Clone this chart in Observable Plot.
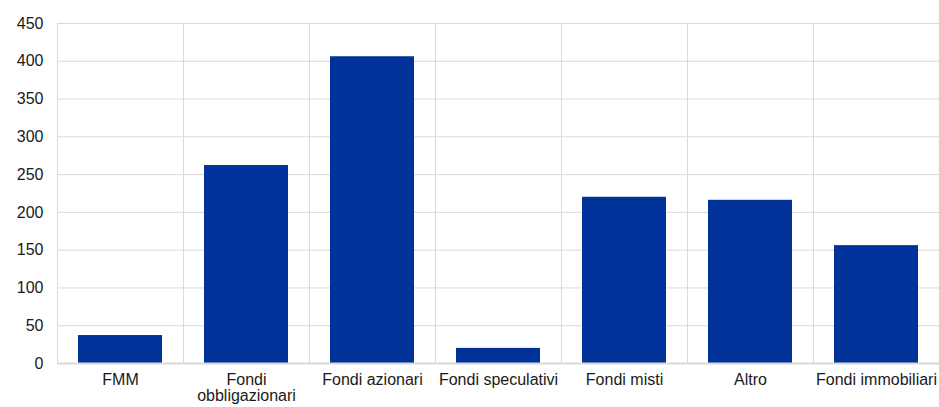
<!DOCTYPE html>
<html>
<head>
<meta charset="utf-8">
<script src="https://cdn.jsdelivr.net/npm/d3@7"></script>
<script src="https://cdn.jsdelivr.net/npm/@observablehq/plot@0.6"></script>
<style>
  html, body { margin: 0; padding: 0; background: #fff; }
  #chart svg { display: block; }
</style>
</head>
<body>
<div id="chart"></div>
<script>
const categories = ["FMM", "Fondi obbligazionari", "Fondi azionari", "Fondi speculativi", "Fondi misti", "Altro", "Fondi immobiliari"];
const tickLabels = ["FMM", "Fondi\nobbligazionari", "Fondi azionari", "Fondi speculativi", "Fondi misti", "Altro", "Fondi immobiliari"];
const values = [37, 262, 406, 20, 220, 216, 156];
const yTicks = [0, 50, 100, 150, 200, 250, 300, 350, 400, 450];

const data = categories.map((c, i) => ({category: c, value: values[i]}));

const W = 939, H = 407, mL = 57, mR = 0;
const bandW = (W - mL - mR) / categories.length;

const chart = Plot.plot({
  width: W,
  height: H,
  marginLeft: mL,
  marginRight: mR,
  marginTop: 23,
  marginBottom: 44,
  style: {fontFamily: "'Liberation Sans', Arial, sans-serif", fontSize: "16px", color: "#1a1a1a", background: "#fff"},
  x: {domain: categories, paddingInner: 0.333, paddingOuter: 0.1665, label: null, tickSize: 0, tickPadding: 10,
      tickFormat: d => tickLabels[categories.indexOf(d)]},
  y: {domain: [0, 450], ticks: yTicks, label: null, tickSize: 0, tickPadding: 14},
  marks: [
    Plot.gridY(yTicks, {stroke: "#d9d9d9", strokeOpacity: 1, strokeWidth: 1}),
    Plot.ruleX(categories, {x: d => d, dx: -bandW / 2, stroke: "#d9d9d9", strokeWidth: 1}),
    Plot.barY(data, {x: "category", y: "value", fill: "#003299"}),
    Plot.ruleY([0], {stroke: "#d9d9d9", strokeWidth: 2})
  ]
});
document.getElementById("chart").appendChild(chart);
</script>
</body>
</html>
